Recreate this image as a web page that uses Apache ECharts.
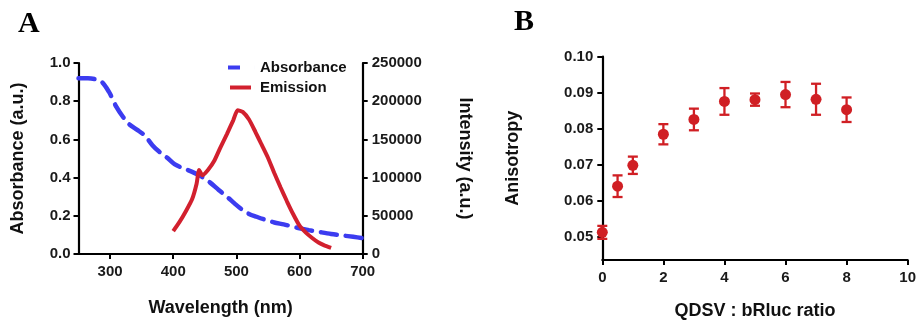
<!DOCTYPE html>
<html><head><meta charset="utf-8">
<script src="https://cdn.jsdelivr.net/npm/echarts@6/dist/echarts.min.js"></script>
<style>html,body{margin:0;padding:0;background:#fff}#c{width:919px;height:325px}</style>
</head><body><div id="c"></div>
<script>
// Panel A: absorbance (left axis) and emission (right axis)
const absWavelength = [250, 265, 285, 298, 310, 320, 330, 343, 355, 367, 378, 390, 402, 415, 430, 445, 458, 472, 485, 497, 508, 520, 532, 545, 560, 575, 590, 600, 615, 632, 650, 668, 685, 700];
const absValues     = [0.92, 0.92, 0.905, 0.85, 0.77, 0.72, 0.68, 0.65, 0.62, 0.57, 0.535, 0.505, 0.47, 0.45, 0.43, 0.405, 0.375, 0.335, 0.30, 0.265, 0.235, 0.21, 0.195, 0.18, 0.165, 0.155, 0.143, 0.135, 0.125, 0.115, 0.105, 0.097, 0.09, 0.083];
const emWavelength  = [400, 410, 420, 430, 437, 441, 446, 455, 465, 475, 485, 495, 502, 510, 520, 530, 540, 550, 560, 570, 580, 590, 600, 610, 620, 630, 640, 650];
const emValues      = [30000, 42000, 56000, 72000, 92000, 110000, 103000, 110000, 122000, 140000, 157000, 175000, 188000, 186000, 176000, 160000, 143000, 126000, 106000, 87000, 69000, 52000, 37000, 28000, 21000, 15000, 11000, 8000];
const absTicks = [0, 0.2, 0.4, 0.6, 0.8, 1.0];
const emTicks = [0, 50000, 100000, 150000, 200000, 250000];
const wlTicks = [300, 400, 500, 600, 700];

// Panel B: anisotropy vs ratio
const ratio      = [0, 0.5, 1, 2, 3, 4, 5, 6, 7, 8];
const anisotropy = [0.0513, 0.0641, 0.0699, 0.0785, 0.0826, 0.0876, 0.0881, 0.0895, 0.0882, 0.0853];
const anisoErr   = [0.0018, 0.0030, 0.0024, 0.0028, 0.0030, 0.0037, 0.0017, 0.0035, 0.0043, 0.0034];
const anisoTicks = [0.05, 0.06, 0.07, 0.08, 0.09, 0.10];
const ratioTicks = [0, 2, 4, 6, 8, 10];

const BLUE = '#3c3cf0', RED = '#d2202e', RED2 = '#d01f24';
const tickFont = {fontFamily: 'Liberation Sans, Arial', fontWeight: 'bold', fontSize: 15, color: '#1a1a1a'};
const nameFont = {fontFamily: 'Liberation Sans, Arial', fontWeight: 'bold', fontSize: 18, color: '#111'};
const axLine = {show: true, onZero: false, lineStyle: {color: '#000', width: 2.2}};
const axTick = {show: true, inside: false, length: 5, lineStyle: {color: '#000', width: 2}};

const chart = echarts.init(document.getElementById('c'), null, {renderer: 'canvas'});
chart.setOption({
  animation: false,
  backgroundColor: '#fff',
  graphic: [
    {type: 'text', left: 18, top: 9, style: {text: 'A', font: 'bold 30px "Liberation Serif", "Times New Roman", serif', fill: '#000'}},
    {type: 'text', left: 514, top: 7, style: {text: 'B', font: 'bold 30px "Liberation Serif", "Times New Roman", serif', fill: '#000'}}
  ],
  legend: {
    orient: 'vertical', left: 223, top: 55, itemWidth: 27, itemHeight: 5, itemGap: 5,
    textStyle: Object.assign({}, tickFont, {color: '#111'}),
    data: [
      {name: 'Absorbance', icon: 'path://M0,0H12V4H0Z M27,0H27.01V4H27Z'},
      {name: 'Emission', icon: 'path://M0,0H0.01V4H0Z M2,0H23V4H2Z M27,0H27.01V4H27Z'}
    ]
  },
  grid: [
    {left: 78.5, right: 556.3, top: 63, bottom: 71},
    {left: 602.3, right: 9.7, top: 56.7, bottom: 61.7}
  ],
  xAxis: [
    {type: 'value', gridIndex: 0, min: 250, max: 700,
     name: 'Wavelength (nm)', nameLocation: 'middle', nameGap: 45, nameTextStyle: nameFont,
     axisLine: axLine, axisTick: Object.assign({customValues: wlTicks}, axTick),
     axisLabel: Object.assign({customValues: wlTicks, margin: 10}, tickFont), splitLine: {show: false}},
    {type: 'value', gridIndex: 1, min: 0, max: 10, interval: 2,
     name: 'QDSV : bRluc ratio', nameLocation: 'middle', nameGap: 42, nameTextStyle: nameFont,
     axisLine: axLine, axisTick: axTick,
     axisLabel: Object.assign({margin: 10}, tickFont), splitLine: {show: false}}
  ],
  yAxis: [
    {type: 'value', gridIndex: 0, min: 0, max: 1, interval: 0.2, position: 'left',
     name: 'Absorbance (a.u.)', nameLocation: 'middle', nameGap: 51, nameTextStyle: nameFont,
     axisLine: axLine, axisTick: axTick,
     axisLabel: Object.assign({margin: 8, formatter: v => v.toFixed(1)}, tickFont), splitLine: {show: false}},
    {type: 'value', gridIndex: 0, min: 0, max: 250000, interval: 50000, position: 'right',
     name: 'Intensity (a.u.)', nameLocation: 'middle', nameGap: 93, nameRotate: -90, nameTextStyle: nameFont,
     axisLine: axLine, axisTick: axTick,
     axisLabel: Object.assign({margin: 9, formatter: v => String(v)}, tickFont), splitLine: {show: false}},
    {type: 'value', gridIndex: 1, min: 0.04364, max: 0.10,
     name: 'Anisotropy', nameLocation: 'middle', nameGap: 80, nameTextStyle: nameFont,
     axisLine: axLine, axisTick: Object.assign({customValues: anisoTicks}, axTick),
     axisLabel: Object.assign({customValues: anisoTicks, margin: 9, formatter: v => v.toFixed(2)}, tickFont), splitLine: {show: false}}
  ],
  series: [
    {name: 'Absorbance', type: 'line', xAxisIndex: 0, yAxisIndex: 0, symbol: 'none', smooth: 0.3,
     data: absWavelength.map((w, i) => [w, absValues[i]]),
     lineStyle: {color: BLUE, width: 4.5, type: [16, 9], cap: 'round'}, itemStyle: {color: BLUE}},
    {name: 'Emission', type: 'line', xAxisIndex: 0, yAxisIndex: 1, symbol: 'none', smooth: 0.2,
     data: emWavelength.map((w, i) => [w, emValues[i]]),
     lineStyle: {color: RED, width: 4}, itemStyle: {color: RED}},
    {name: 'err', type: 'custom', xAxisIndex: 1, yAxisIndex: 2, clip: false,
     data: ratio.map((r, i) => [r, anisotropy[i], anisoErr[i]]),
     renderItem: function (params, api) {
       const x = api.value(0), y = api.value(1), e = api.value(2);
       const hi = api.coord([x, y + e]), lo = api.coord([x, y - e]);
       const w = 5, st = {stroke: RED2, lineWidth: 2.3};
       return {type: 'group', children: [
         {type: 'line', shape: {x1: hi[0], y1: hi[1], x2: lo[0], y2: lo[1]}, style: st},
         {type: 'line', shape: {x1: hi[0] - w, y1: hi[1], x2: hi[0] + w, y2: hi[1]}, style: st},
         {type: 'line', shape: {x1: lo[0] - w, y1: lo[1], x2: lo[0] + w, y2: lo[1]}, style: st}
       ]};
     }},
    {name: 'Anisotropy', type: 'scatter', xAxisIndex: 1, yAxisIndex: 2, clip: false, symbolSize: 11,
     data: ratio.map((r, i) => [r, anisotropy[i]]), itemStyle: {color: RED2, opacity: 1}}
  ]
});
</script></body></html>
